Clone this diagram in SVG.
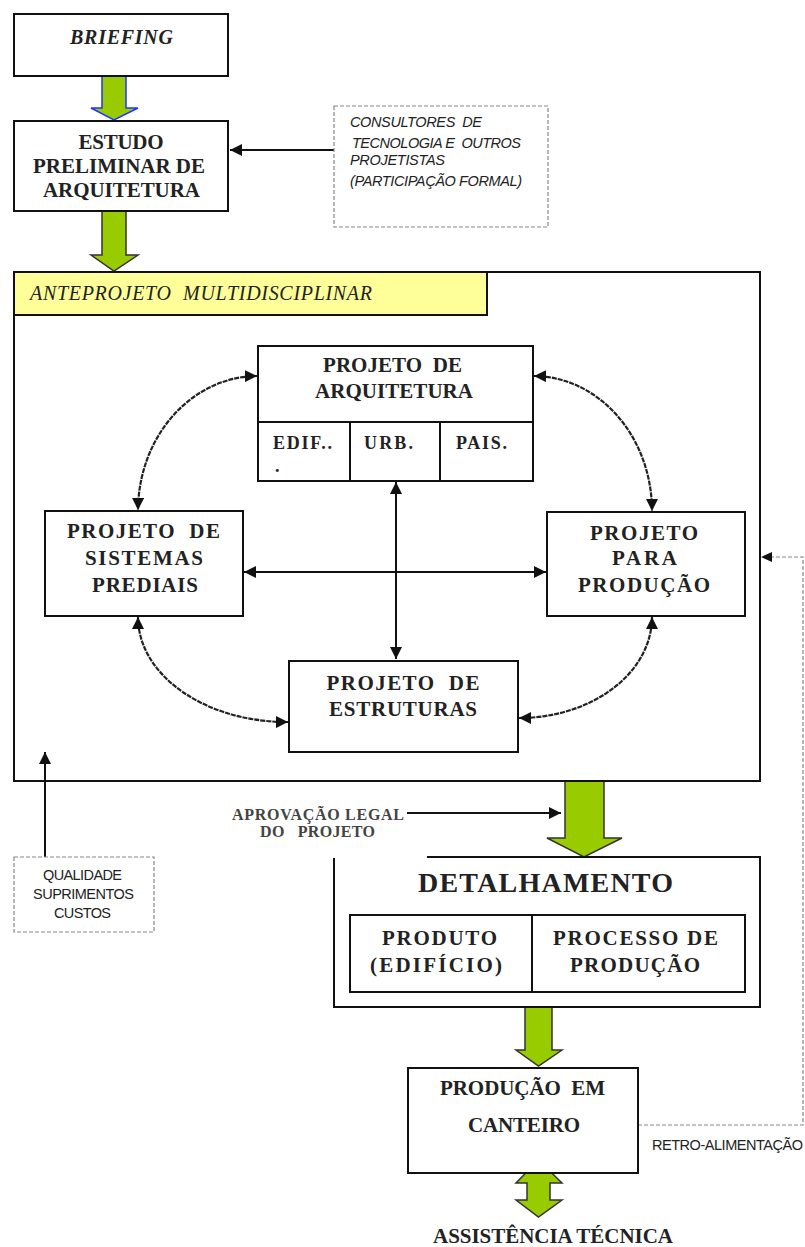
<svg xmlns="http://www.w3.org/2000/svg" width="805" height="1247" viewBox="0 0 805 1247">
<style>
.box{fill:#fff;stroke:#111;stroke-width:2}
.ln{fill:none;stroke:#111;stroke-width:2}
.dash{fill:#fff;stroke:#888;stroke-width:1.2;stroke-dasharray:4 2}
.dl{fill:none;stroke:#888;stroke-width:1.2;stroke-dasharray:4 2}
.cv{fill:none;stroke:#222;stroke-width:2.2;stroke-dasharray:5 1}
.t{font-family:"Liberation Serif","Times New Roman",serif;font-weight:bold;font-size:21px;fill:#222;text-anchor:middle}
.sm{font-size:18px}
.big{font-size:28px}
.ap{font-size:16px;fill:#444}
.ti{font-family:"Liberation Serif","Times New Roman",serif;font-style:italic;font-size:20px;fill:#222}
.s{font-family:"Liberation Sans",Arial,sans-serif;font-size:14.5px;fill:#222}
.ga{fill:#99cc00;stroke:#333;stroke-width:1.5}
</style>
<defs>
<marker id="ah" viewBox="0 0 10 10" refX="10" refY="5" markerWidth="12" markerHeight="12" markerUnits="userSpaceOnUse" orient="auto-start-reverse">
<path d="M0,0 L10,5 L0,10 z" fill="#111"/>
</marker>
</defs>

<g id="connectors">
<polygon class="ga" points="102,76 126,76 126,108 138,108 114,120 91,108 102,108" style="stroke:#2233ff"/>
<polygon class="ga" points="102,211 126,211 126,255 138,255 114,271 91,255 102,255"/>
<polygon class="ga" points="565,781 604,781 604,838 622,838 584,857 547,838 565,838"/>
<polygon class="ga" points="525,1007 552,1007 552,1050 562,1050 538.5,1066 516,1050 525,1050"/>
<polygon class="ga" points="538.5,1160 562,1183 550,1183 550,1200 562,1200 538.5,1217 516,1200 527,1200 527,1183 516,1183"/>
<line class="ln" x1="334" y1="150" x2="230" y2="150" marker-end="url(#ah)"/>
<line class="ln" x1="45" y1="857" x2="45" y2="752" marker-end="url(#ah)"/>
<line class="ln" x1="407" y1="813" x2="561" y2="813" marker-end="url(#ah)"/>
<line class="ln" x1="396" y1="482" x2="396" y2="659" marker-start="url(#ah)" marker-end="url(#ah)"/>
<line class="ln" x1="244" y1="572" x2="546" y2="572" marker-start="url(#ah)" marker-end="url(#ah)"/>
<path class="cv" d="M257,376 A120,135 0 0 0 138,510" marker-start="url(#ah)" marker-end="url(#ah)"/>
<path class="cv" d="M534,376 A119,135 0 0 1 652,511" marker-start="url(#ah)" marker-end="url(#ah)"/>
<path class="cv" d="M138,617 A149,105 0 0 0 288,722" marker-start="url(#ah)" marker-end="url(#ah)"/>
<path class="cv" d="M652,617 A133,101 0 0 1 519,718" marker-start="url(#ah)" marker-end="url(#ah)"/>
<path class="dl" d="M638,1125 H803 V557 H772"/>
<path d="M761,557 L772,552 L772,562 z" fill="#111"/>
</g>

<g id="briefing">
<rect class="box" x="14" y="14" width="214" height="62"/>
<text class="ti" x="121.5" y="44" text-anchor="middle" font-weight="bold" textLength="103">BRIEFING</text>
</g>

<g id="estudo">
<rect class="box" x="14" y="121" width="214" height="90"/>
<text class="t" x="121" y="149" textLength="85">ESTUDO</text>
<text class="t" x="119" y="173" textLength="172">PRELIMINAR DE</text>
<text class="t" x="121.5" y="197" textLength="157">ARQUITETURA</text>
</g>

<g id="consultores">
<rect class="dash" x="334" y="106" width="214" height="121"/>
<text class="s" font-style="italic" x="350" y="127" textLength="132" xml:space="preserve">CONSULTORES  DE</text>
<text class="s" font-style="italic" x="352" y="148" textLength="169" xml:space="preserve">TECNOLOGIA E  OUTROS</text>
<text class="s" font-style="italic" x="350" y="165" textLength="95">PROJETISTAS</text>
<text class="s" font-style="italic" x="350" y="186" textLength="172">(PARTICIPAÇÃO FORMAL)</text>
</g>

<g id="anteprojeto">
<rect x="14" y="272" width="746" height="509" fill="none" stroke="#111" stroke-width="2"/>
<rect x="14" y="272" width="473" height="43" fill="#ffff99" stroke="#111" stroke-width="2"/>
<text class="ti" x="30" y="300" textLength="342" xml:space="preserve">ANTEPROJETO  MULTIDISCIPLINAR</text>
</g>

<g id="arquitetura">
<rect class="box" x="258" y="346" width="275" height="135"/>
<line class="ln" x1="258" y1="422" x2="533" y2="422"/>
<line class="ln" x1="350" y1="422" x2="350" y2="481"/>
<line class="ln" x1="440" y1="422" x2="440" y2="481"/>
<text class="t" x="392.5" y="372" textLength="139" xml:space="preserve">PROJETO  DE</text>
<text class="t" x="394" y="398" textLength="158">ARQUITETURA</text>
<text class="t sm" x="273" y="449" style="text-anchor:start" textLength="59">EDIF..</text>
<text class="t sm" x="275" y="472" style="text-anchor:start">.</text>
<text class="t sm" x="364" y="449" style="text-anchor:start" textLength="49">URB.</text>
<text class="t sm" x="456" y="449" style="text-anchor:start" textLength="51">PAIS.</text>
</g>

<g id="sistemas">
<rect class="box" x="45" y="511" width="198" height="105"/>
<text class="t" x="143.5" y="538" textLength="153" xml:space="preserve">PROJETO  DE</text>
<text class="t" x="144" y="565" textLength="118">SISTEMAS</text>
<text class="t" x="145" y="592" textLength="106">PREDIAIS</text>
</g>

<g id="producao">
<rect class="box" x="547" y="512" width="198" height="104"/>
<text class="t" x="644" y="540" textLength="108">PROJETO</text>
<text class="t" x="644.5" y="565" textLength="65">PARA</text>
<text class="t" x="644" y="592" textLength="132">PRODUÇÃO</text>
</g>

<g id="estruturas">
<rect class="box" x="289" y="661" width="229" height="91"/>
<text class="t" x="403" y="690" textLength="153" xml:space="preserve">PROJETO  DE</text>
<text class="t" x="403" y="716" textLength="148">ESTRUTURAS</text>
</g>

<g id="qualidade">
<rect class="dash" x="14" y="857" width="140" height="75"/>
<text class="s" x="82.5" y="880" text-anchor="middle" textLength="79">QUALIDADE</text>
<text class="s" x="83.5" y="899" text-anchor="middle" textLength="101">SUPRIMENTOS</text>
<text class="s" x="82.5" y="918" text-anchor="middle" textLength="57">CUSTOS</text>
</g>

<g id="aprovacao">
<text class="t ap" x="318" y="820" textLength="172">APROVAÇÃO LEGAL</text>
<text class="t ap" x="317.5" y="837" textLength="115" xml:space="preserve">DO   PROJETO</text>
</g>

<g id="detalhamento">
<path class="ln" d="M427,857 H760 V1007 H334 V858"/>
<text class="t big" x="545.5" y="892" textLength="255">DETALHAMENTO</text>
<rect class="box" x="350" y="915" width="395" height="77"/>
<line class="ln" x1="532" y1="915" x2="532" y2="992"/>
<text class="t" x="439.5" y="945" textLength="115">PRODUTO</text>
<text class="t" x="436" y="972" textLength="132">(EDIFÍCIO)</text>
<text class="t" x="635.5" y="945" textLength="165" xml:space="preserve">PROCESSO DE</text>
<text class="t" x="635" y="972" textLength="130">PRODUÇÃO</text>
</g>

<g id="canteiro">
<rect class="box" x="408" y="1068" width="230" height="105"/>
<text class="t" x="522.5" y="1095" textLength="165" xml:space="preserve">PRODUÇÃO  EM</text>
<text class="t" x="524" y="1132" textLength="112">CANTEIRO</text>
</g>

<g id="retro">
<text class="s" x="652" y="1150" textLength="151">RETRO-ALIMENTAÇÃO</text>
</g>

<g id="assistencia">
<text class="t" x="553" y="1243" textLength="240">ASSISTÊNCIA TÉCNICA</text>
</g>
</svg>
